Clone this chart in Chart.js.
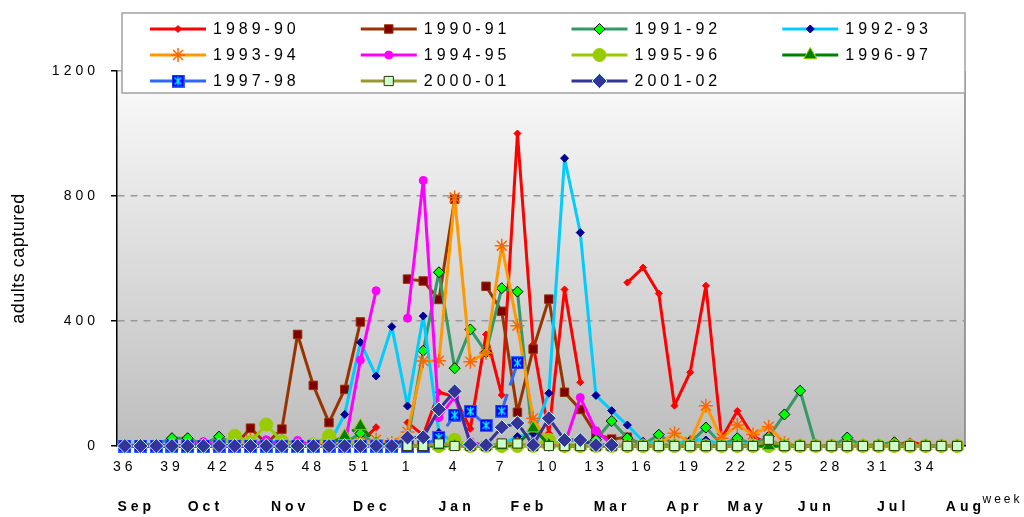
<!DOCTYPE html>
<html><head><meta charset="utf-8">
<script src="https://cdn.jsdelivr.net/npm/chart.js@4.4.0/dist/chart.umd.min.js"></script>
<style>html,body{margin:0;padding:0;background:#fff;}#wrap{width:1024px;height:517px;}</style>
</head><body><div id="wrap"><canvas id="c" width="1024" height="517"></canvas></div>
<script>
// ---- categories / labels ----
const weeks = [36,37,38,39,40,41,42,43,44,45,46,47,48,49,50,51,52,53,1,2,3,4,5,6,7,8,9,10,11,12,13,14,15,16,17,18,19,20,21,22,23,24,25,26,27,28,29,30,31,32,33,34,35,36];
const months = ['Sep','Oct','Nov','Dec','Jan','Feb','Mar','Apr','May','Jun','Jul','Aug'];
const monthAt = [0.6,5.0,10.4,15.6,21.0,25.6,30.9,35.5,39.5,43.9,48.8,53.4];
const yTicks = [0,400,800,1200];
const seasons = ['1989-90','1990-91','1991-92','1992-93','1993-94','1994-95','1995-96','1996-97','1997-98','2000-01','2001-02'];

// ---- series values (adults captured per week) ----
const s1989_90 = [0,0,0,0,0, 0,0,0,0,0, 0,0,0,0,0, 10,60,null,75,35, 172,158,55,357,163, 1000,325,41,501,204, null,null,523,571,488, 129,236,513,25,112, 32,5,0,0,0, 0,0,0,0,0, 15,0,0,0];
const s1990_91 = [0,0,0,0,0, 0,0,0,57,8, 54,357,194,75,181, 397,null,null,534,528, 469,790,null,511,431, 108,310,470,172,117, 38,22,28,0,0, 0,0,0,0,0, 0,0,0,0,0, 0,0,0,0,0, 0,0,0,0];
const s1991_92 = [0,5,5,25,25, 5,30,5,0,0, 0,0,0,5,10, 40,5,5,15,305, 556,249,373,300,505, 494,10,5,0,5, 20,80,25,5,36, 5,10,59,5,25, 5,30,101,177,0, 0,27,0,5,12, 0,0,0,0];
const s1992_93 = [0,0,0,0,0, 0,0,0,0,0, 25,0,0,5,101, 332,224,382,128,416, 43,10,5,5,5, 30,40,169,921,683, 162,113,67,15,5, 5,20,19,5,10, 5,0,0,0,0, 0,0,0,0,0, 0,0,0,0];
const s1993_94 = [0,0,0,0,0, 0,0,0,20,5, 15,5,5,10,15, 10,20,10,45,272, 273,795,270,298,641, 385,89,5,0,0, 0,0,0,0,5, 41,12,129,25,67, 37,62,10,0,0, 0,0,0,0,0, 0,0,0,0];
const s1994_95 = [0,0,0,0,0, 14,0,0,0,20, 0,18,0,0,0, 275,497,null,409,850, 91,157,14,0,0, 0,0,0,5,155, 49,5,0,0,0, 0,0,0,0,0, 0,0,0,0,0, 0,0,0,0,0, 0,0,0,0];
const s1995_96 = [0,0,0,0,0, 0,0,33,12,69, 15,0,5,33,10, 5,0,0,0,0, 0,20,0,0,0, 0,0,20,0,0, 0,0,0,0,0, 0,0,0,0,0, 0,0,0,0,0, 0,0,0,0,0, 0,0,0,0];
const s1996_97 = [0,0,0,0,0, 0,0,0,0,0, 0,0,0,5,32, 64,10,0,0,0, 0,0,0,0,0, 5,57,5,0,0, 0,0,0,0,0, 0,0,0,0,0, 0,0,0,0,0, 0,0,0,0,0, 0,0,0,0];
const s1997_98 = [0,0,0,0,0, 0,0,0,0,0, 0,0,0,0,0, 0,0,0,0,0, 27,99,111,66,112, 266,null,null,null,null, null,null,null,null,null, null,null,null,null,null, null,null,null,null,null, null,null,null,null,null, null,null,null,null];
const s2000_01 = [null,null,null,null,null, null,null,null,null,null, null,null,null,null,null, null,null,null,0,0, 8,0,0,0,8, 8,0,0,0,0, 0,0,0,0,0, 0,0,0,0,0, 0,20,0,0,0, 0,0,0,0,0, 0,0,0,0];
const s2001_02 = [0,0,0,0,0, 0,0,0,0,0, 0,0,0,0,0, 0,0,0,27,28, 117,175,5,3,60, 73,3,89,19,19, 3,3,null,null,null, null,null,null,null,null, null,null,null,null,null, null,null,null,null,null, null,null,null,null];

// ---- custom marker for 1997-98 ----
function blueMarker(){
  const c = document.createElement('canvas'); c.width = 13; c.height = 13;
  const g = c.getContext('2d');
  g.fillStyle = '#0000ff'; g.fillRect(0,0,13,13);
  g.strokeStyle = '#3366ff'; g.lineWidth = 1; g.strokeRect(0.5,0.5,12,12);
  g.strokeStyle = '#00ffff'; g.lineWidth = 1.2;
  g.beginPath(); g.moveTo(3,3); g.lineTo(10,10); g.moveTo(10,3); g.lineTo(3,10); g.moveTo(6.5,2); g.lineTo(6.5,11); g.stroke();
  return c;
}

function mk(label, data, o){
  return Object.assign({label, data, borderWidth:3, tension:0, fill:false, clip:false, spanGaps:false,
    borderJoinStyle:'round', borderCapStyle:'round', pointBorderWidth:1}, o);
}
const datasets = [
  mk(seasons[0], s1989_90, {borderColor:'#ff0000', pointStyle:'rectRot', pointRadius:3.5, pointBackgroundColor:'#ff0000', pointBorderColor:'#ff0000'}),
  mk(seasons[1], s1990_91, {borderColor:'#993300', pointStyle:'rect', pointRadius:6, pointBackgroundColor:'#800000', pointBorderColor:'#993300'}),
  mk(seasons[2], s1991_92, {borderColor:'#339966', pointStyle:'rectRot', pointRadius:5.5, pointBackgroundColor:'#00ff00', pointBorderColor:'#000000'}),
  mk(seasons[3], s1992_93, {borderColor:'#00ccff', pointStyle:'rectRot', pointRadius:4, pointBackgroundColor:'#000099', pointBorderColor:'#000099'}),
  mk(seasons[4], s1993_94, {borderColor:'#ff9900', pointStyle:'star', pointRadius:7, pointBackgroundColor:'#ff6600', pointBorderColor:'#ff6600', pointBorderWidth:1.5}),
  mk(seasons[5], s1994_95, {borderColor:'#ff00ff', pointStyle:'circle', pointRadius:4, pointBackgroundColor:'#ff00ff', pointBorderColor:'#ff00ff'}),
  mk(seasons[6], s1995_96, {borderColor:'#99cc00', pointStyle:'circle', pointRadius:6.5, pointBackgroundColor:'#99cc00', pointBorderColor:'#99cc00'}),
  mk(seasons[7], s1996_97, {borderColor:'#008000', borderDash:[24,9], borderCapStyle:'butt', pointStyle:'triangle', pointRadius:7.5, pointBackgroundColor:'#008000', pointBorderColor:'#99cc00'}),
  mk(seasons[8], s1997_98, {borderColor:'#3366ff', borderDash:[24,9], borderCapStyle:'butt', pointStyle:blueMarker(), pointRadius:7, pointBackgroundColor:'#0000ff', pointBorderColor:'#3366ff'}),
  mk(seasons[9], s2000_01, {borderColor:'#999933', pointStyle:'rect', pointRadius:6.5, pointBackgroundColor:'#ccffcc', pointBorderColor:'#333300'}),
  mk(seasons[10], s2001_02, {borderColor:'#333399', pointStyle:'rectRot', pointRadius:7.5, pointBackgroundColor:'#333399', pointBorderColor:'#ccffff'})
];
datasets.forEach((d,i)=>{ d.order = datasets.length - 1 - i; });

function drawMarker(ctx, d, x, y){
  const st = d.pointStyle, r = d.pointRadius;
  ctx.save();
  ctx.setLineDash([]);
  ctx.fillStyle = d.pointBackgroundColor; ctx.strokeStyle = d.pointBorderColor; ctx.lineWidth = d.pointBorderWidth;
  if (typeof st === 'object') { ctx.drawImage(st, x - st.width/2, y - st.height/2); ctx.restore(); return; }
  ctx.beginPath();
  if (st === 'circle') ctx.arc(x, y, r, 0, Math.PI*2);
  else if (st === 'rect') { const s = r*Math.SQRT1_2; ctx.rect(x-s, y-s, 2*s, 2*s); }
  else if (st === 'rectRot') { ctx.moveTo(x-r,y); ctx.lineTo(x,y-r); ctx.lineTo(x+r,y); ctx.lineTo(x,y+r); ctx.closePath(); }
  else if (st === 'triangle') { let a = 0; ctx.moveTo(x+Math.sin(a)*r, y-Math.cos(a)*r); a += 2*Math.PI/3; ctx.lineTo(x+Math.sin(a)*r, y-Math.cos(a)*r); a += 2*Math.PI/3; ctx.lineTo(x+Math.sin(a)*r, y-Math.cos(a)*r); ctx.closePath(); }
  else if (st === 'star') { for (let k=0;k<4;k++){ const a = k*Math.PI/4; ctx.moveTo(x+Math.cos(a)*r, y+Math.sin(a)*r); ctx.lineTo(x-Math.cos(a)*r, y-Math.sin(a)*r);} }
  if (st !== 'star') ctx.fill();
  if (d.pointBorderWidth) ctx.stroke();
  ctx.restore();
}

function spacedText(ctx, text, cx, y, spacing){
  const w = ctx.measureText(text).width;
  ctx.textAlign = 'left';
  ctx.fillText(text, cx - (w - spacing)/2, y);
}

const deco = {
  id:'deco',
  beforeDraw(chart){
    const {ctx, chartArea:a} = chart;
    ctx.letterSpacing = '4px';
    const g = ctx.createLinearGradient(0, a.top, 0, a.bottom);
    g.addColorStop(0, '#fbfbfb'); g.addColorStop(1, '#bdbdbd');
    ctx.save();
    ctx.fillStyle = g; ctx.fillRect(a.left, a.top, a.right-a.left, a.bottom-a.top);
    ctx.strokeStyle = '#7f7f7f'; ctx.lineWidth = 1.5;
    ctx.beginPath(); ctx.moveTo(a.right, a.top); ctx.lineTo(a.right, a.bottom); ctx.stroke();
    ctx.restore();
  },
  afterDraw(chart){
    const {ctx, chartArea:a, scales:{x}} = chart;
    ctx.save();
    // month labels
    ctx.fillStyle = '#000'; ctx.textBaseline = 'middle';
    ctx.letterSpacing = '4px';
    ctx.font = 'bold 14px "Liberation Sans", Arial, sans-serif';
    months.forEach((m,i)=> spacedText(ctx, m, x.getPixelForValue(monthAt[i]), 507, 4));
    // axis title "week"
    ctx.letterSpacing = '3px';
    ctx.font = '12px "Liberation Sans", Arial, sans-serif';
    spacedText(ctx, 'week', a.right + 36, 500, 3);
    // y title
    ctx.letterSpacing = '0.5px';
    ctx.font = '18px "Liberation Sans", Arial, sans-serif';
    ctx.translate(19, (a.top + a.bottom)/2); ctx.rotate(-Math.PI/2);
    ctx.textAlign = 'center';
    ctx.fillText('adults captured', 0, 0);
    ctx.restore();

    // legend
    ctx.save();
    const L = 122, T = 13, R = a.right, B = 93;
    ctx.fillStyle = '#ffffff'; ctx.fillRect(L, T, R-L, B-T);
    ctx.strokeStyle = '#a0a0a0'; ctx.lineWidth = 1.5; ctx.strokeRect(L, T, R-L, B-T);
    const colW = (R - L) / 4;
    ctx.font = '16px "Liberation Sans", Arial, sans-serif';
    ctx.letterSpacing = '4px';
    ctx.textBaseline = 'middle'; ctx.textAlign = 'left';
    datasets.forEach((d,i)=>{
      const col = i % 4, row = Math.floor(i/4);
      const x0 = L + 28 + col*colW, y0 = T + 16 + row*26;
      ctx.save();
      ctx.strokeStyle = d.borderColor; ctx.lineWidth = d.borderWidth;
      ctx.setLineDash(d.borderDash || []);
      ctx.beginPath(); ctx.moveTo(x0, y0); ctx.lineTo(x0+56, y0); ctx.stroke();
      ctx.restore();
      drawMarker(ctx, d, x0+28, y0);
      ctx.fillStyle = '#000';
      ctx.fillText(d.label, x0 + 63, y0 + 1);
    });
    ctx.restore();
  }
};

new Chart(document.getElementById('c'), {
  type:'line',
  data:{ labels: weeks.map(String), datasets },
  options:{
    responsive:false, animation:false, devicePixelRatio:1,
    layout:{ padding:{ top:71, right:59, left:0, bottom:0 } },
    plugins:{ legend:{display:false}, tooltip:{enabled:false} },
    events:[],
    scales:{
      x:{
        offset:true,
        grid:{ display:false, drawTicks:false },
        border:{ display:true, color:'#000', width:1.5 },
        ticks:{ autoSkip:false, maxRotation:0, padding:13, color:'#000',
          font:{ family:'"Liberation Sans", Arial, sans-serif', size:14 },
          callback:(v,i)=> i % 3 === 0 ? String(weeks[i]) : '' },
        afterFit:(s)=>{ s.height = 71; }
      },
      y:{
        min:0, max:1200,
        afterBuildTicks:(s)=>{ s.ticks = yTicks.map(v=>({value:v})); },
        grid:{ color:(c)=> c.tick && c.tick.value === 0 ? 'rgba(0,0,0,0)' : '#9a9a9a', lineWidth:1.5, tickColor:'#000', tickLength:6, tickWidth:1.5 },
        border:{ display:true, color:'#000', width:1.5, dash:[7,6] },
        ticks:{ padding:12, color:'#000', font:{ family:'"Liberation Sans", Arial, sans-serif', size:14 }, callback:(v)=> String(v) },
        afterFit:(s)=>{ s.width = 117; }
      }
    }
  },
  plugins:[deco]
});
</script>
</body></html>
